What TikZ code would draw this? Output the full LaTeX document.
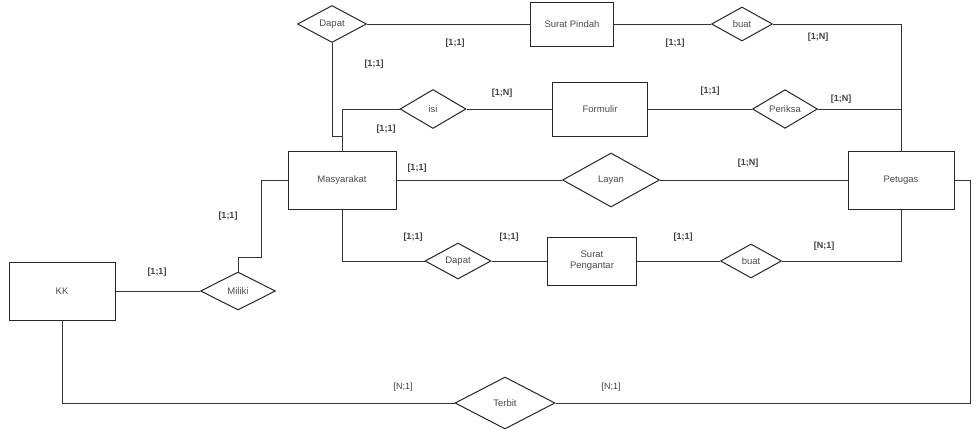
\documentclass[tikz,border=0pt]{standalone}
\usepackage{fontspec}
\setmainfont{Liberation Sans}
\usetikzlibrary{shapes.geometric}

\begin{document}
\begin{tikzpicture}[x=1pt,y=-1pt,%
                    entitas/.style={draw=black!85,line width=1pt,fill=white,inner sep=0,font=\fontsize{9.5}{11}\selectfont,text=black!70},
                    relasi/.style={diamond,draw=black!85,line width=1pt,fill=white,inner sep=0,font=\fontsize{9.5}{11}\selectfont,text=black!70},
                    kard/.style={font=\bfseries\fontsize{9}{11}\selectfont,text=black!75},
                    kardtipis/.style={font=\fontsize{9}{11}\selectfont,text=black!75},
                    garis/.style={draw=black!80,line width=1pt},
        ]
        \useasboundingbox (0,0) rectangle (978,429);
        % entitas
        \node[entitas,minimum width=108,minimum height=58] (masy) at (342,180) {Masyarakat};
        \node[entitas,minimum width=106,minimum height=58] (petugas) at (901,180) {Petugas};
        \node[entitas,minimum width=106,minimum height=58] (kk) at (62,291) {KK};
        \node[entitas,minimum width=95,minimum height=54] (formulir) at (600,109) {Formulir};
        \node[entitas,minimum width=83,minimum height=44] (pindah) at (572,24) {Surat Pindah};
        \node[entitas,minimum width=89,minimum height=48,align=center] (pengantar) at (592,261) {Surat\\Pengantar};
        % relasi
        \node[relasi,minimum width=69,minimum height=37] (dapat1) at (332,24) {Dapat};
        \node[relasi,minimum width=61,minimum height=34] (buat1) at (742,24) {buat};
        \node[relasi,minimum width=66,minimum height=39] (isi) at (433,109) {isi};
        \node[relasi,minimum width=65,minimum height=36] (periksa) at (785,109) {Periksa};
        \node[relasi,minimum width=97,minimum height=54] (layan) at (611,180) {Layan};
        \node[relasi,minimum width=75,minimum height=38] (miliki) at (238,291) {Miliki};
        \node[relasi,minimum width=66,minimum height=36] (dapat2) at (458,261) {Dapat};
        \node[relasi,minimum width=61,minimum height=34] (buat2) at (751,261) {buat};
        \node[relasi,minimum width=100,minimum height=52] (terbit) at (505,403) {Terbit};
        % titik belok
        \coordinate (b1) at (342,136);
        \coordinate (b2) at (261,257);
        \coordinate (b3) at (970,180);
%
        \path[garis]
            (dapat1) -- (pindah)
            (pindah) -- (buat1)
            (buat1.east) -| (petugas.north)
            (dapat1.south) |- (b1)
            (isi.west) -| (masy.north)
            (isi) -- (formulir)
            (formulir) -- (periksa)
            (periksa.east) -- (periksa.east -| petugas.north)
            (masy) -- (layan)
            (layan) -- (petugas)
            (masy.west) -| (b2) -| (miliki.north)
            (kk) -- (miliki)
            (masy.south) |- (dapat2.west)
            (dapat2) -- (pengantar)
            (pengantar) -- (buat2)
            (buat2.east) -| (petugas.south)
            (kk.south) |- (terbit.west)
            (terbit.east) -| (b3) -- (petugas.east)
            ;
        % kardinalitas
        \node[kard] (k1) at (455,43) {[1;1]};
        \node[kard] (k2) at (675,43) {[1;1]};
        \node[kard] (k3) at (818,37) {[1;N]};
        \node[kard] (k4) at (374,64) {[1;1]};
        \node[kard] (k5) at (502,93) {[1;N]};
        \node[kard] (k6) at (386,129) {[1;1]};
        \node[kard] (k7) at (710,91) {[1;1]};
        \node[kard] (k8) at (841,99) {[1;N]};
        \node[kard] (k9) at (417,168) {[1;1]};
        \node[kard] (k10) at (748,163) {[1;N]};
        \node[kard] (k11) at (228,216) {[1;1]};
        \node[kard] (k12) at (157,272) {[1;1]};
        \node[kard] (k13) at (413,237) {[1;1]};
        \node[kard] (k14) at (509,237) {[1;1]};
        \node[kard] (k15) at (683,237) {[1;1]};
        \node[kard] (k16) at (824,246) {[N;1]};
        \node[kardtipis] (k17) at (403,387) {[N;1]};
        \node[kardtipis] (k18) at (611,387) {[N;1]};
    \end{tikzpicture}
\end{document}
